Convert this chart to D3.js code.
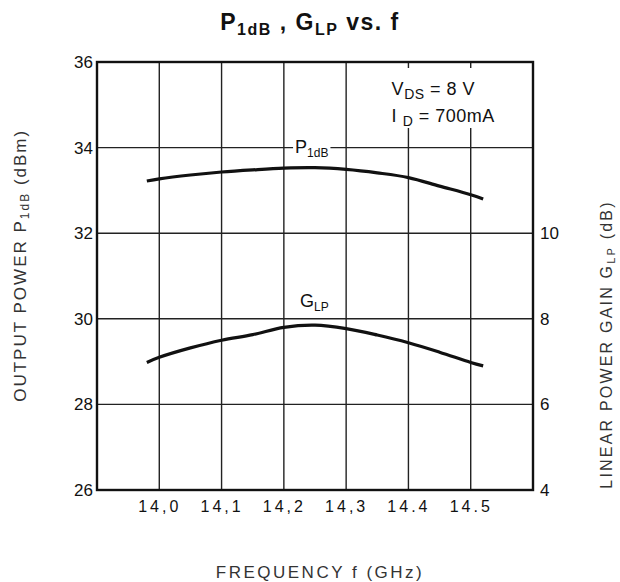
<!DOCTYPE html>
<meta charset="utf-8">
<script src="https://d3js.org/d3.v7.min.js"></script>
<style>
  body { margin: 0; background: #fff; }
  text { font-family: "Liberation Sans", Arial, sans-serif; fill: #111; }
</style>
<div id="chart"></div>
<script>

// values
var freq = [13.98, 14.0, 14.05, 14.1, 14.15, 14.2, 14.25, 14.3, 14.35, 14.4, 14.45, 14.5, 14.52];
var p1db = [33.22, 33.27, 33.36, 33.43, 33.48, 33.52, 33.53, 33.49, 33.41, 33.3, 33.1, 32.9, 32.8];
var glp  = [6.98, 7.1, 7.32, 7.5, 7.63, 7.8, 7.85, 7.77, 7.62, 7.44, 7.22, 6.98, 6.9];

var xTicks = [14.0, 14.1, 14.2, 14.3, 14.4, 14.5];
var yLeftTicks = [26, 28, 30, 32, 34, 36];
var yRightTicks = [4, 6, 8, 10];

var margin = {top: 62, right: 87, bottom: 92, left: 97},
    width = 620 - margin.left - margin.right,
    height = 582 - margin.top - margin.bottom;

var svg = d3.select("#chart").append("svg")
    .attr("width", 620).attr("height", 582)
  .append("g")
    .attr("transform", "translate(" + margin.left + "," + margin.top + ")");

var x = d3.scaleLinear().domain([13.9, 14.6]).range([0, width]);
var y = d3.scaleLinear().domain([26, 36]).range([height, 0]);
var y2 = d3.scaleLinear().domain([4, 14]).range([height, 0]);

// grid
svg.append("g")
  .selectAll("line.v").data(xTicks).enter().append("line")
    .attr("x1", function(d) { return x(d); }).attr("x2", function(d) { return x(d); })
    .attr("y1", 0).attr("y2", height)
    .attr("stroke", "#222").attr("stroke-width", 1.4);
svg.append("g")
  .selectAll("line.h").data(yLeftTicks.slice(1, -1)).enter().append("line")
    .attr("x1", 0).attr("x2", width)
    .attr("y1", function(d) { return y(d); }).attr("y2", function(d) { return y(d); })
    .attr("stroke", "#222").attr("stroke-width", 1.4);

// axes
var xAxis = svg.append("g")
  .attr("transform", "translate(0," + height + ")")
  .call(d3.axisBottom(x).tickValues(xTicks).tickSize(0).tickPadding(11)
    .tickFormat(function(d) { return d3.format(".1f")(d).replace(".", d >= 14.4 ? "." : ","); }));
xAxis.selectAll("text").style("font-size", "16px").style("letter-spacing", "3px");

var yAxis = svg.append("g")
  .call(d3.axisLeft(y).tickValues(yLeftTicks).tickSize(0).tickPadding(4));
yAxis.selectAll("text").style("font-size", "17px");

var yAxis2 = svg.append("g")
  .attr("transform", "translate(" + width + ",0)")
  .call(d3.axisRight(y2).tickValues(yRightTicks).tickSize(0).tickPadding(7));
yAxis2.selectAll("text").style("font-size", "17px");

[xAxis, yAxis, yAxis2].forEach(function(a) { a.select(".domain").remove(); });

// frame
svg.append("rect")
  .attr("width", width).attr("height", height)
  .attr("fill", "none").attr("stroke", "#111").attr("stroke-width", 2.4);

// curves
var lineP = d3.line()
  .x(function(d, i) { return x(freq[i]); })
  .y(function(d) { return y(d); })
  .curve(d3.curveCatmullRom);
var lineG = d3.line()
  .x(function(d, i) { return x(freq[i]); })
  .y(function(d) { return y2(d); })
  .curve(d3.curveCatmullRom);

svg.append("path").datum(p1db).attr("d", lineP)
  .attr("fill", "none").attr("stroke", "#111").attr("stroke-width", 3.2);
svg.append("path").datum(glp).attr("d", lineG)
  .attr("fill", "none").attr("stroke", "#111").attr("stroke-width", 3.2);

// curve labels with white backing
function label(g, px, py, main, sub) {
  var t = g.append("text").attr("x", px).attr("y", py).style("font-size", "18px");
  t.append("tspan").text(main);
  t.append("tspan").attr("dy", 4).style("font-size", "12px").text(sub);
  var b = t.node().getBBox();
  g.insert("rect", "text").attr("x", b.x - 2).attr("y", b.y + 2)
    .attr("width", b.width + 4).attr("height", b.height - 4).attr("fill", "#fff");
}
label(svg.append("g"), x(14.218), y(33.88), "P", "1dB");
label(svg.append("g"), x(14.226), y(30.28), "G", "LP");

// bias conditions
var cx = x(14.373);
var cond = svg.append("g");
cond.append("rect").attr("x", cx - 4).attr("y", 6)
  .attr("width", x(14.6) - cx).attr("height", 60).attr("fill", "#fff");
var c1 = cond.append("text").attr("x", cx).attr("y", 33)
  .style("font-size", "18px").style("letter-spacing", "0.5px");
c1.append("tspan").text("V");
c1.append("tspan").attr("dy", 4).style("font-size", "14px").text("DS");
c1.append("tspan").attr("dy", -4).text(" = 8 V");
var c2 = cond.append("text").attr("x", cx).attr("y", 60)
  .style("font-size", "18px").style("letter-spacing", "0.5px");
c2.append("tspan").text("I ");
c2.append("tspan").attr("dy", 4).style("font-size", "14px").text("D");
c2.append("tspan").attr("dy", -4).text(" = 700mA");

// title
var title = svg.append("text").attr("x", width / 2 - 5).attr("y", -32)
  .attr("text-anchor", "middle").style("font-size", "23px").style("font-weight", "bold")
  .style("letter-spacing", "1.5px");
title.append("tspan").text("P");
title.append("tspan").attr("dy", 5).style("font-size", "16px").text("1dB");
title.append("tspan").attr("dy", -5).text(" ,  G");
title.append("tspan").attr("dy", 5).style("font-size", "16px").text("LP");
title.append("tspan").attr("dy", -5).text("  vs.  f");

// axis titles
svg.append("text").attr("x", width / 2 + 5).attr("y", height + 88)
  .attr("text-anchor", "middle").style("font-size", "17px").style("fill", "#333")
  .style("letter-spacing", "2.5px")
  .text("FREQUENCY  f (GHz)");

var lt = svg.append("text")
  .attr("transform", "translate(" + (-71) + "," + (y(31.25)) + ") rotate(-90)")
  .attr("text-anchor", "middle").style("font-size", "17px").style("fill", "#333")
  .style("letter-spacing", "2px");
lt.append("tspan").text("OUTPUT POWER  P");
lt.append("tspan").attr("dy", 3).style("font-size", "12px").text("1dB");
lt.append("tspan").attr("dy", -3).text(" (dBm)");

var rt = svg.append("text")
  .attr("transform", "translate(" + (width + 79) + "," + (y(29.4)) + ") rotate(-90)")
  .attr("text-anchor", "middle").style("font-size", "16px").style("fill", "#333")
  .style("letter-spacing", "2.2px");
rt.append("tspan").text("LINEAR POWER GAIN  G");
rt.append("tspan").attr("dy", 3).style("font-size", "11px").text("LP");
rt.append("tspan").attr("dy", -3).text(" (dB)");

</script>
